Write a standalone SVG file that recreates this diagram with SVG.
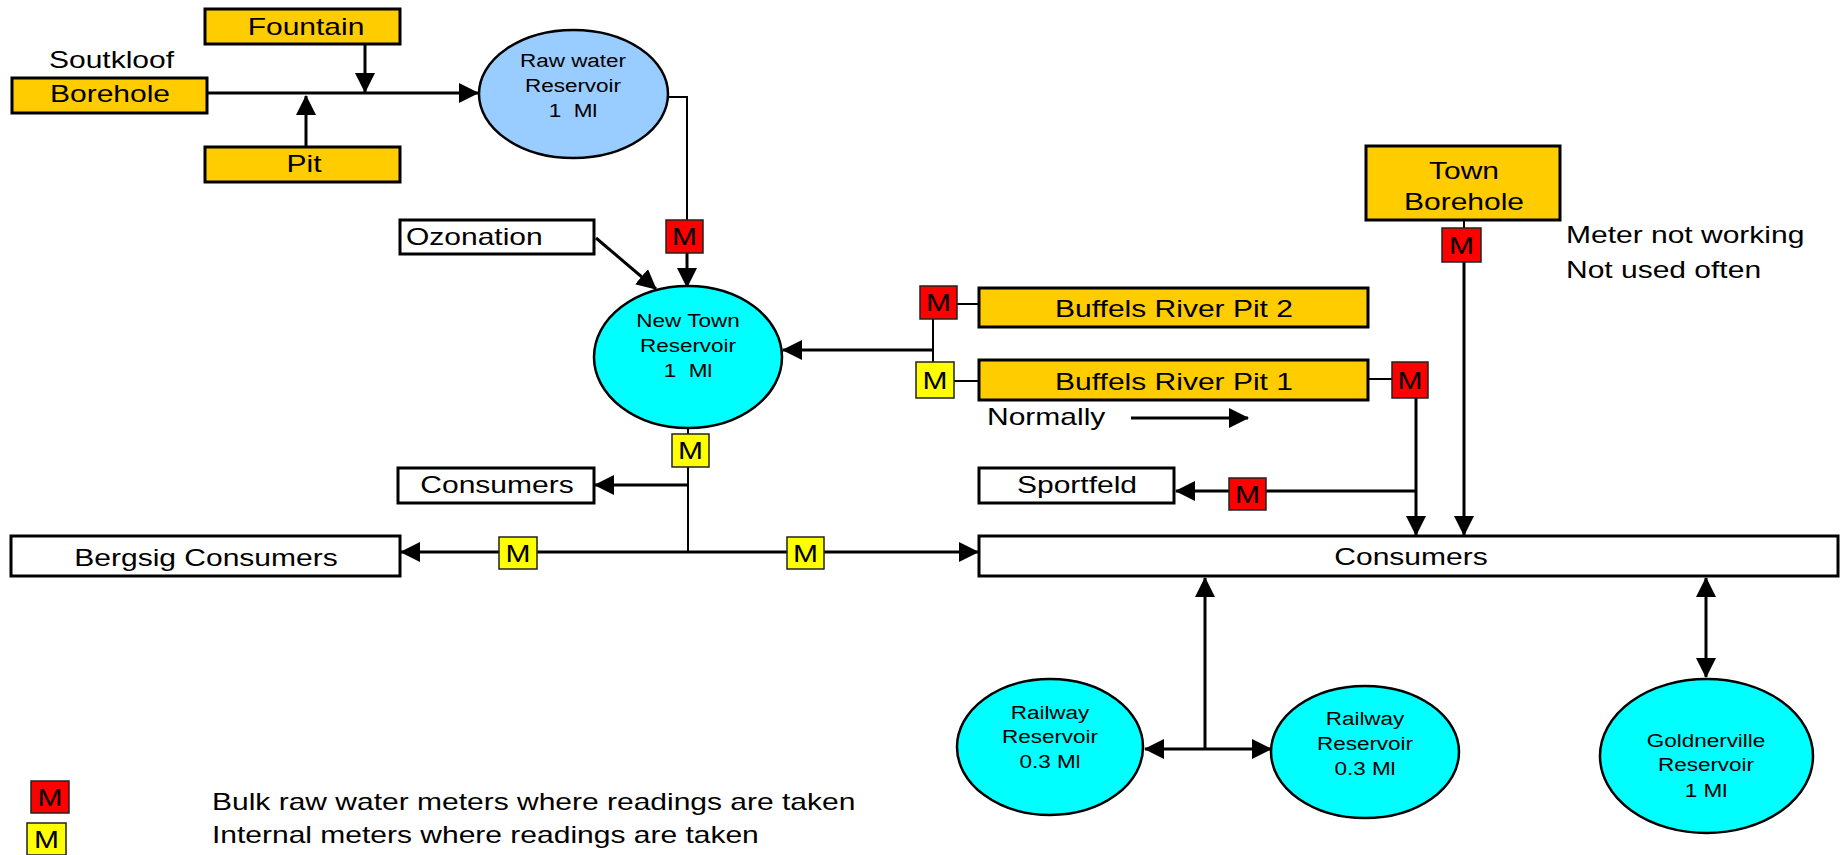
<svg xmlns="http://www.w3.org/2000/svg" width="1841" height="855" viewBox="0 0 1841 855">
<defs>
<style>
.box{stroke:#000;stroke-width:3}
.src{fill:#FFCC00}
.wh{fill:#fff}
.res{fill:#00FFFF;stroke:#000;stroke-width:2.5}
.raw{fill:#99CCFF;stroke:#000;stroke-width:2.5}
.mr{fill:#FF0000;stroke:#222;stroke-width:1.5}
.my{fill:#FFFF00;stroke:#222;stroke-width:1.5}
text{font-family:"Liberation Sans",Arial,sans-serif;fill:#000}
.l{font-size:24px}
.s{font-size:18px}
.c{text-anchor:middle}
.ln{fill:none;stroke:#000;stroke-width:3}
.th{fill:none;stroke:#000;stroke-width:2}
.a{marker-end:url(#ah)}
.a2{marker-start:url(#ah);marker-end:url(#ah)}
</style>
<marker id="ah" markerUnits="userSpaceOnUse" markerWidth="20" markerHeight="20" viewBox="0 0 20 20" refX="19" refY="10" orient="auto-start-reverse"><path d="M0,0 L20,10 L0,20 z" fill="#000"/></marker>
</defs>
<rect width="1841" height="855" fill="#fff"/>

<g id="connectors">
<line class="ln a" x1="207" y1="93" x2="478" y2="93"/>
<line class="ln a" x1="365" y1="44" x2="365" y2="92"/>
<line class="ln a" x1="306" y1="147" x2="306" y2="96"/>
<polyline class="th" points="666,97 687,97 687,220"/>
<line class="ln a" x1="687" y1="253" x2="687" y2="287"/>
<line class="ln a" x1="596" y1="238" x2="656" y2="289"/>
<line class="th" x1="957" y1="304" x2="979" y2="304"/>
<line class="th" x1="933" y1="319" x2="933" y2="362"/>
<line class="ln a" x1="933" y1="350" x2="783" y2="350"/>
<line class="th" x1="954" y1="381" x2="979" y2="381"/>
<line class="th" x1="1368" y1="379" x2="1392" y2="379"/>
<line class="ln a" x1="1416" y1="398" x2="1416" y2="535"/>
<line class="ln a" x1="1416" y1="491" x2="1176" y2="491"/>
<line class="th" x1="1464" y1="220" x2="1464" y2="228"/>
<line class="ln a" x1="1464" y1="262" x2="1464" y2="535"/>
<line class="th" x1="688" y1="428" x2="688" y2="434"/>
<line class="th" x1="688" y1="467" x2="688" y2="552"/>
<line class="ln a" x1="688" y1="485" x2="595" y2="485"/>
<line class="ln a" x1="688" y1="552" x2="401" y2="552"/>
<line class="ln a" x1="688" y1="552" x2="978" y2="552"/>
<line class="ln a" x1="1205" y1="749" x2="1205" y2="578"/>
<line class="ln a2" x1="1145" y1="749" x2="1271" y2="749"/>
<line class="ln a2" x1="1706" y1="578" x2="1706" y2="677"/>
<line class="ln a" x1="1131" y1="418" x2="1248" y2="418"/>
</g>

<g id="soutkloof-borehole">
<text class="l c" transform="translate(111.5,68) scale(1.25,1)">Soutkloof</text>
<rect class="box src" x="12" y="78" width="195" height="35"/>
<text class="l c" transform="translate(110,102) scale(1.25,1)">Borehole</text>
</g>
<g id="fountain">
<rect class="box src" x="205" y="9" width="195" height="35"/>
<text class="l c" transform="translate(306,35) scale(1.25,1)">Fountain</text>
</g>
<g id="pit">
<rect class="box src" x="205" y="147" width="195" height="35"/>
<text class="l c" transform="translate(304,172) scale(1.25,1)">Pit</text>
</g>
<g id="raw-water-reservoir">
<ellipse class="raw" cx="573.5" cy="94" rx="94.5" ry="64"/>
<text class="s c" transform="translate(573,67) scale(1.25,1)">Raw water</text>
<text class="s c" transform="translate(573,92) scale(1.25,1)">Reservoir</text>
<text class="s c" transform="translate(573,117) scale(1.25,1)" xml:space="preserve">1  Ml</text>
</g>
<g id="ozonation">
<rect class="box wh" x="400" y="220" width="194" height="34"/>
<text class="l" transform="translate(406,245) scale(1.25,1)">Ozonation</text>
</g>
<g id="new-town-reservoir">
<ellipse class="res" cx="688" cy="357" rx="94" ry="71"/>
<text class="s c" transform="translate(688,327) scale(1.25,1)">New Town</text>
<text class="s c" transform="translate(688,352) scale(1.25,1)">Reservoir</text>
<text class="s c" transform="translate(688,377) scale(1.25,1)" xml:space="preserve">1  Ml</text>
</g>
<g id="buffels-pit-2">
<rect class="box src" x="979" y="288" width="389" height="39"/>
<text class="l c" transform="translate(1174,317) scale(1.25,1)">Buffels River Pit 2</text>
</g>
<g id="buffels-pit-1">
<rect class="box src" x="979" y="360" width="389" height="40"/>
<text class="l c" transform="translate(1174,390) scale(1.25,1)">Buffels River Pit 1</text>
</g>
<g id="normally">
<text class="l" transform="translate(987,425) scale(1.25,1)">Normally</text>
</g>
<g id="town-borehole">
<rect class="box src" x="1366" y="146" width="194" height="74"/>
<text class="l c" transform="translate(1464,179) scale(1.25,1)">Town</text>
<text class="l c" transform="translate(1464,210) scale(1.25,1)">Borehole</text>
</g>
<g id="town-note">
<text class="l" transform="translate(1566,243) scale(1.25,1)">Meter not working</text>
<text class="l" transform="translate(1566,278) scale(1.25,1)">Not used often</text>
</g>
<g id="consumers-small">
<rect class="box wh" x="398" y="468" width="196" height="35"/>
<text class="l c" transform="translate(497,493) scale(1.25,1)">Consumers</text>
</g>
<g id="sportfeld">
<rect class="box wh" x="979" y="468" width="195" height="35"/>
<text class="l c" transform="translate(1077,493) scale(1.25,1)">Sportfeld</text>
</g>
<g id="bergsig-consumers">
<rect class="box wh" x="11" y="536" width="389" height="40"/>
<text class="l c" transform="translate(206,566) scale(1.25,1)">Bergsig Consumers</text>
</g>
<g id="consumers-main">
<rect class="box wh" x="979" y="536" width="859" height="40"/>
<text class="l c" transform="translate(1411,565) scale(1.25,1)">Consumers</text>
</g>
<g id="railway-reservoir-1">
<ellipse class="res" cx="1050" cy="747" rx="93" ry="68"/>
<text class="s c" transform="translate(1050,719) scale(1.25,1)">Railway</text>
<text class="s c" transform="translate(1050,743) scale(1.25,1)">Reservoir</text>
<text class="s c" transform="translate(1050,768) scale(1.25,1)">0.3 Ml</text>
</g>
<g id="railway-reservoir-2">
<ellipse class="res" cx="1365" cy="752" rx="94" ry="66"/>
<text class="s c" transform="translate(1365,725) scale(1.25,1)">Railway</text>
<text class="s c" transform="translate(1365,750) scale(1.25,1)">Reservoir</text>
<text class="s c" transform="translate(1365,775) scale(1.25,1)">0.3 Ml</text>
</g>
<g id="goldnerville-reservoir">
<ellipse class="res" cx="1706.5" cy="756" rx="106.5" ry="77"/>
<text class="s c" transform="translate(1706,747) scale(1.25,1)">Goldnerville</text>
<text class="s c" transform="translate(1706,771) scale(1.25,1)">Reservoir</text>
<text class="s c" transform="translate(1706,797) scale(1.25,1)">1 Ml</text>
</g>

<g id="meter-raw"><rect class="mr" x="666" y="220" width="37" height="33"/><text class="l c" transform="translate(684.5,245) scale(1.25,1)">M</text></g>
<g id="meter-pit2"><rect class="mr" x="920" y="286" width="37" height="33"/><text class="l c" transform="translate(938.5,311) scale(1.25,1)">M</text></g>
<g id="meter-pit1-in"><rect class="my" x="916" y="362" width="38" height="36"/><text class="l c" transform="translate(935,388.5) scale(1.25,1)">M</text></g>
<g id="meter-pit1-out"><rect class="mr" x="1392" y="362" width="36" height="36"/><text class="l c" transform="translate(1410,388.5) scale(1.25,1)">M</text></g>
<g id="meter-town"><rect class="mr" x="1442" y="228" width="39" height="34"/><text class="l c" transform="translate(1461.5,253.5) scale(1.25,1)">M</text></g>
<g id="meter-sport"><rect class="mr" x="1229" y="478" width="37" height="32"/><text class="l c" transform="translate(1247.5,502.5) scale(1.25,1)">M</text></g>
<g id="meter-newtown"><rect class="my" x="672" y="434" width="37" height="33"/><text class="l c" transform="translate(690.5,459) scale(1.25,1)">M</text></g>
<g id="meter-bergsig"><rect class="my" x="499" y="537" width="38" height="32"/><text class="l c" transform="translate(518,561.5) scale(1.25,1)">M</text></g>
<g id="meter-east"><rect class="my" x="787" y="537" width="37" height="32"/><text class="l c" transform="translate(805.5,561.5) scale(1.25,1)">M</text></g>

<g id="legend">
<rect class="mr" x="31" y="781" width="38" height="32"/><text class="l c" transform="translate(50,805.5) scale(1.25,1)">M</text>
<rect class="my" x="27" y="823" width="39" height="32"/><text class="l c" transform="translate(46.5,847.5) scale(1.25,1)">M</text>
<text class="l" transform="translate(212,810) scale(1.25,1)">Bulk raw water meters where readings are taken</text>
<text class="l" transform="translate(212,843) scale(1.25,1)">Internal meters where readings are taken</text>
</g>
</svg>
